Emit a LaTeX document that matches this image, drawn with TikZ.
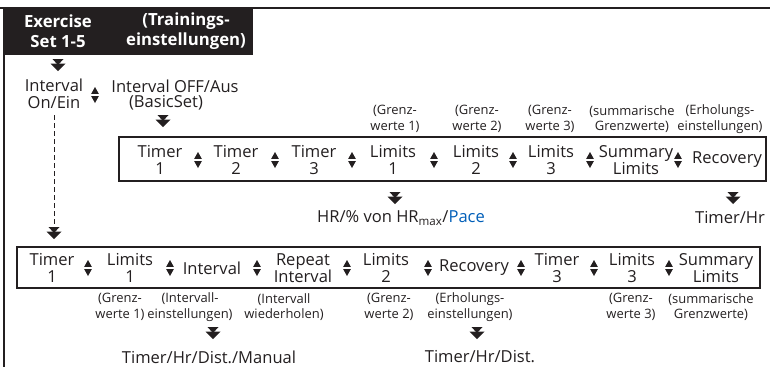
\documentclass[tikz,border=0pt]{standalone}
\usepackage{fontspec}
\setmainfont{Open Sans}
\definecolor{ink}{RGB}{35,31,32}
\definecolor{paceblue}{RGB}{0,94,184}
\tikzset{
  dn/.pic={\fill[ink] (-5.5,-6)--(5.5,-6)--(0,0)--cycle;
           \fill[ink] (-7.5,-1.5)--(7.5,-1.5)--(0,6)--cycle;},
  ud/.pic={\fill[ink] (-3.8,-1.2)--(3.8,-1.2)--(0,-8)--cycle;
           \fill[ink] (-3.8,1.2)--(3.8,1.2)--(0,8)--cycle;}
}
\begin{document}
\begin{tikzpicture}[x=1bp,y=-1bp,
  every node/.style={inner sep=0pt, text=ink, align=center},
  main/.style={font=\fontsize{16.6}{17.5}\selectfont},
  lbl/.style={font=\fontsize{13}{15.5}\selectfont},
  hdr/.style={font=\bfseries\fontsize{16.8}{20.5}\selectfont, text=white},
  rowbox/.style={draw=ink, line width=1.4bp},
  frameline/.style={draw=ink, line width=2.6bp}
]
\useasboundingbox (0,0) rectangle (770,367);
% frame
\draw[frameline] (0,8) -- (770,8);
\draw[frameline] (4,7) -- (4,367);
\fill[ink] (2.7,6.7) rectangle (253,55);
\node[hdr] (ex) at (58,31) {Exercise\\Set 1-5};
\node[hdr] (tr) at (186,31) {(Trainings-\\einstellungen)};
\pic at (58,65) {dn};
% left
\node[main] (ion) at (54,94) {Interval\\On/Ein};
\pic at (95,95) {ud};
\node[main] (ioff) at (175,86) {Interval OFF/Aus};
\node[main] (basic) at (166,103) {(BasicSet)};
\pic at (163,121) {dn};
\coordinate (dashend) at (54,225);
\draw[ink, dashed, line width=1bp, dash pattern=on 5bp off 3bp] (ion.south) ++(0,6) -- (dashend);
\pic at (54,233) {dn};
% upper row
\draw[rowbox] (119,137) rectangle (766,181);
\node[lbl] (ul1) at (395,119) {(Grenz-\\werte 1)};
\node[lbl] (ul2) at (477,119) {(Grenz-\\werte 2)};
\node[lbl] (ul3) at (550,119) {(Grenz-\\werte 3)};
\node[lbl] (uls) at (632,119) {(summarische\\Grenzwerte)};
\node[lbl] (ulr) at (720,119) {(Erholungs-\\einstellungen)};
\node[main] (ut1) at (160,160) {Timer\\1};
\node[main] (ut2) at (236,160) {Timer\\2};
\node[main] (ut3) at (314,160) {Timer\\3};
\node[main] (uL1) at (393,160) {Limits\\1};
\node[main] (uL2) at (476,160) {Limits\\2};
\node[main] (uL3) at (551,160) {Limits\\3};
\node[main] (uS) at (636,160) {Summary\\Limits};
\node[main] (uR) at (727,160) {Recovery};
\foreach \x in {198,275,352,434,513,590,678} \pic at (\x,160) {ud};
\pic at (395,198) {dn};
\pic at (733,198) {dn};
\node[main] (hr) at (401,218) {HR/\% von HR\textsubscript{max}/\textcolor{paceblue}{Pace}};
\node[main] (th) at (730,218) {Timer/Hr};
% lower row
\draw[rowbox] (17,247) rectangle (760,288);
\node[main] (lt1) at (52,268) {Timer\\1};
\node[main] (lL1) at (130,268) {Limits\\1};
\node[main] (lI) at (212,268) {Interval};
\node[main] (lRI) at (303,268) {Repeat\\Interval};
\node[main] (lL2) at (386,268) {Limits\\2};
\node[main] (lR) at (474,268) {Recovery};
\node[main] (lt3) at (557,268) {Timer\\3};
\node[main] (lL3) at (632,268) {Limits\\3};
\node[main] (lS) at (716,268) {Summary\\Limits};
\foreach \x in {88,170,257,347,428,521,594,669} \pic at (\x,268) {ud};
\node[lbl] (ll1) at (120,307) {(Grenz-\\werte 1)};
\node[lbl] (lli) at (190,307) {(Intervall-\\einstellungen)};
\node[lbl] (llw) at (284,307) {(Intervall\\wiederholen)};
\node[lbl] (ll2) at (389,307) {(Grenz-\\werte 2)};
\node[lbl] (llr) at (470,307) {(Erholungs-\\einstellungen)};
\node[lbl] (ll3) at (631,307) {(Grenz-\\werte 3)};
\node[lbl] (lls) at (711,307) {(summarische\\Grenzwerte)};
\pic at (213,333) {dn};
\pic at (477,333) {dn};
\node[main] (thdm) at (209,357) {Timer/Hr/Dist./Manual};
\node[main] (thd) at (480,357) {Timer/Hr/Dist.};
\end{tikzpicture}
\end{document}
